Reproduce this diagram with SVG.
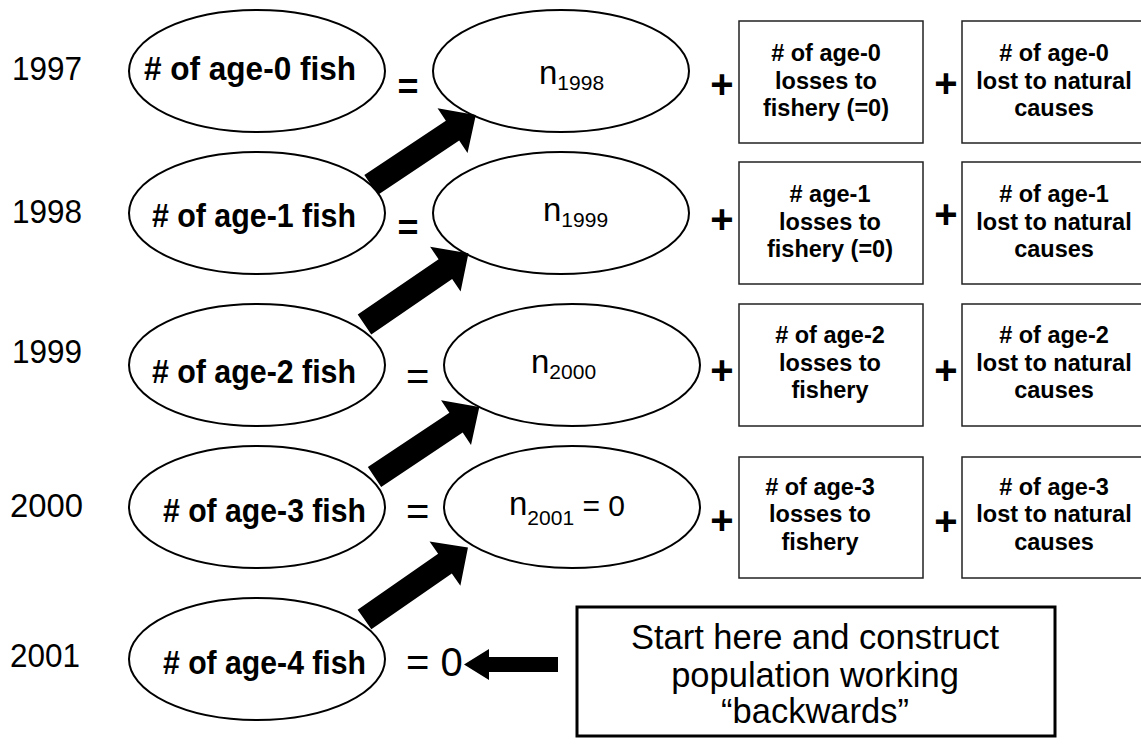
<svg xmlns="http://www.w3.org/2000/svg" width="1141" height="748" viewBox="0 0 1141 748">
<style>
.bg{fill:#fff}
.ell{fill:#fff;stroke:#000;stroke-width:2}
.box{fill:#fff;stroke:#222;stroke-width:1.5}
.big{fill:#fff;stroke:#000;stroke-width:3}
.yr{font-family:"Liberation Sans",Arial,sans-serif;font-size:33px;fill:#000}
.lbl{font-family:"Liberation Sans",Arial,sans-serif;font-size:34px;font-weight:bold;fill:#000;text-anchor:middle}
.bt{font-family:"Liberation Sans",Arial,sans-serif;font-size:23.5px;font-weight:bold;fill:#000;text-anchor:middle}
.op{font-family:"Liberation Sans",Arial,sans-serif;font-size:40px;font-weight:bold;fill:#000;text-anchor:middle}
.eq{font-family:"Liberation Sans",Arial,sans-serif;font-size:40px;fill:#000}
.n{font-family:"Liberation Sans",Arial,sans-serif;font-size:33px;fill:#000}
.sub{font-size:21px}
.st{font-family:"Liberation Sans",Arial,sans-serif;font-size:34.5px;fill:#000;text-anchor:middle}
.arr{fill:#000}
</style>
<defs>
<polygon id="diag" points="0,-12 98,-12 98,-27 126,0 98,27 98,12 0,12"/>
</defs>
<rect class="bg" x="0" y="0" width="1141" height="748"/>

<g id="years">
<text class="yr" x="12" y="80" textLength="70" lengthAdjust="spacingAndGlyphs">1997</text>
<text class="yr" x="12" y="223" textLength="70" lengthAdjust="spacingAndGlyphs">1998</text>
<text class="yr" x="12" y="363" textLength="70" lengthAdjust="spacingAndGlyphs">1999</text>
<text class="yr" x="10" y="517" textLength="73" lengthAdjust="spacingAndGlyphs">2000</text>
<text class="yr" x="10" y="667" textLength="70" lengthAdjust="spacingAndGlyphs">2001</text>
</g>

<g id="n1998"><ellipse class="ell" cx="561" cy="71" rx="128" ry="61"/><text class="n" x="539" y="84">n<tspan class="sub" dy="6">1998</tspan></text></g>
<g id="n1999"><ellipse class="ell" cx="561" cy="213" rx="128" ry="61"/><text class="n" x="543" y="221">n<tspan class="sub" dy="6">1999</tspan></text></g>
<g id="n2000"><ellipse class="ell" cx="572" cy="365" rx="128" ry="61"/><text class="n" x="531" y="373">n<tspan class="sub" dy="6">2000</tspan></text></g>
<g id="n2001"><ellipse class="ell" cx="572" cy="507" rx="128" ry="61"/><text class="n" x="509" y="515">n<tspan class="sub" dy="10">2001</tspan><tspan font-size="30px" dy="-9"> = 0</tspan></text></g>

<g id="connectors">
<use href="#diag" class="arr" transform="translate(371,185) rotate(-33.7)"/>
<use href="#diag" class="arr" transform="translate(364.5,324.5) rotate(-34.4)"/>
<use href="#diag" class="arr" transform="translate(374.5,477) rotate(-33.7)"/>
<use href="#diag" class="arr" transform="translate(364.5,619.5) rotate(-34.8)"/>
<polygon class="arr" points="558,657 489,657 489,649 464,664.5 489,680 489,672 558,672"/>
</g>

<g id="age0"><ellipse class="ell" cx="257" cy="71" rx="128" ry="61"/><text class="lbl" x="250" y="80" textLength="212" lengthAdjust="spacingAndGlyphs"># of age-0 fish</text></g>
<g id="age1"><ellipse class="ell" cx="257" cy="213" rx="128" ry="61"/><text class="lbl" x="254" y="227" textLength="204" lengthAdjust="spacingAndGlyphs"># of age-1 fish</text></g>
<g id="age2"><ellipse class="ell" cx="257" cy="365" rx="128" ry="61"/><text class="lbl" x="254" y="383" textLength="204" lengthAdjust="spacingAndGlyphs"># of age-2 fish</text></g>
<g id="age3"><ellipse class="ell" cx="257" cy="507" rx="128" ry="61"/><text class="lbl" x="264.5" y="522" textLength="203" lengthAdjust="spacingAndGlyphs"># of age-3 fish</text></g>
<g id="age4"><ellipse class="ell" cx="257" cy="659" rx="128" ry="61"/><text class="lbl" x="264.5" y="674" textLength="203" lengthAdjust="spacingAndGlyphs"># of age-4 fish</text></g>

<g id="operators">
<text class="op" x="408" y="99" style="font-size:36px">=</text>
<text class="op" x="408" y="240" style="font-size:36px">=</text>
<text class="eq" x="406" y="390">=</text>
<text class="eq" x="406" y="525">=</text>
<text class="eq" x="406" y="676">= 0</text>
<text class="op" x="722" y="98">+</text>
<text class="op" x="722" y="233">+</text>
<text class="op" x="722" y="384">+</text>
<text class="op" x="722" y="534">+</text>
<text class="op" x="946" y="97">+</text>
<text class="op" x="946" y="228">+</text>
<text class="op" x="946" y="384">+</text>
<text class="op" x="946" y="535">+</text>
</g>

<g id="fish0"><rect class="box" x="739" y="21" width="184" height="122"/><text class="bt" x="826" y="61"># of age-0</text><text class="bt" x="826" y="88.5">losses to</text><text class="bt" x="826" y="116">fishery (=0)</text></g>
<g id="nat0"><rect class="box" x="962" y="21" width="185" height="122"/><text class="bt" x="1054" y="61"># of age-0</text><text class="bt" x="1054" y="88.5">lost to natural</text><text class="bt" x="1054" y="116">causes</text></g>
<g id="fish1"><rect class="box" x="739" y="162" width="184" height="122"/><text class="bt" x="830" y="202"># age-1</text><text class="bt" x="830" y="229.5">losses to</text><text class="bt" x="830" y="257">fishery (=0)</text></g>
<g id="nat1"><rect class="box" x="962" y="162" width="185" height="122"/><text class="bt" x="1054" y="202"># of age-1</text><text class="bt" x="1054" y="229.5">lost to natural</text><text class="bt" x="1054" y="257">causes</text></g>
<g id="fish2"><rect class="box" x="739" y="304" width="184" height="122"/><text class="bt" x="830" y="343"># of age-2</text><text class="bt" x="830" y="370.5">losses to</text><text class="bt" x="830" y="398">fishery</text></g>
<g id="nat2"><rect class="box" x="962" y="304" width="185" height="122"/><text class="bt" x="1054" y="343"># of age-2</text><text class="bt" x="1054" y="370.5">lost to natural</text><text class="bt" x="1054" y="398">causes</text></g>
<g id="fish3"><rect class="box" x="739" y="457" width="184" height="121"/><text class="bt" x="820" y="495"># of age-3</text><text class="bt" x="820" y="522">losses to</text><text class="bt" x="820" y="549.5">fishery</text></g>
<g id="nat3"><rect class="box" x="962" y="457" width="185" height="121"/><text class="bt" x="1054" y="495"># of age-3</text><text class="bt" x="1054" y="522">lost to natural</text><text class="bt" x="1054" y="549.5">causes</text></g>

<g id="start"><rect class="big" x="577" y="607" width="478" height="129"/><text class="st" x="815" y="649">Start here and construct</text><text class="st" x="815" y="687">population working</text><text class="st" x="815" y="723">“backwards”</text></g>
</svg>
